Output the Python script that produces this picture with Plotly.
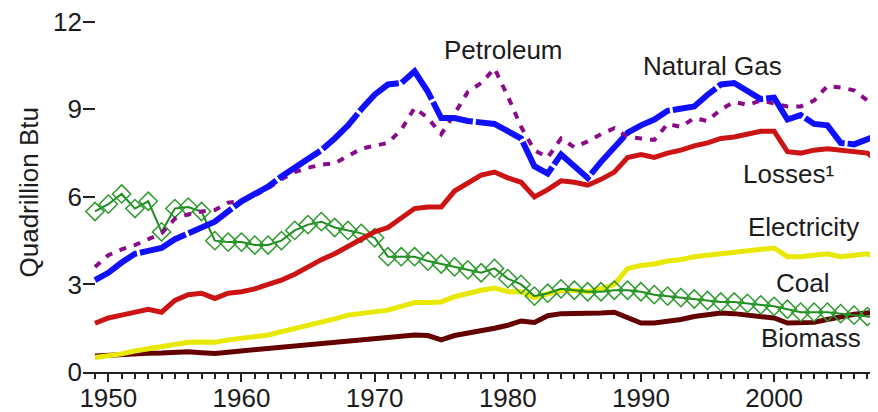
import plotly.graph_objects as go

years = list(range(1949, 2009))

natural_gas = [3.15, 3.4, 3.75, 4.05, 4.15, 4.25, 4.55, 4.75, 4.95, 5.15,
               5.5, 5.85, 6.1, 6.35, 6.7, 7.0, 7.25, 7.6, 8.0, 8.45,
               9.0, 9.5, 9.85, 9.9, 10.3, 9.6, 8.7, 8.7, 8.6, 8.55,
               8.5, 8.25, 8.0, 7.05, 6.8, 7.45, 7.05, 6.65, 7.2, 7.7,
               8.2, 8.45, 8.65, 8.95, 9.05, 9.1, 9.5, 9.85, 9.9, 9.6,
               9.35, 9.4, 8.65, 8.8, 8.5, 8.45, 7.85, 7.8, 8.0, 8.15]

petroleum = [3.6, 4.0, 4.2, 4.35, 4.55, 4.75, 5.25, 5.4, 5.5, 5.55,
             5.8, 5.85, 6.05, 6.3, 6.6, 6.85, 7.0, 7.1, 7.15, 7.4,
             7.65, 7.75, 7.85, 8.3, 9.05, 8.7, 8.15, 8.85, 9.6, 9.9,
             10.4, 9.45, 8.4, 7.6, 7.35, 8.0, 7.7, 7.9, 8.15, 8.35,
             8.05, 8.0, 7.95, 8.5, 8.4, 8.7, 8.6, 9.0, 9.25, 9.15,
             9.3, 9.2, 9.1, 9.1, 9.3, 9.8, 9.75, 9.65, 9.3, 8.8]

losses = [1.67, 1.85, 1.95, 2.05, 2.15, 2.05, 2.45, 2.65, 2.7, 2.52,
          2.7, 2.75, 2.85, 3.0, 3.15, 3.35, 3.6, 3.85, 4.05, 4.3,
          4.55, 4.8, 4.95, 5.3, 5.6, 5.65, 5.65, 6.2, 6.5, 6.75,
          6.85, 6.65, 6.5, 6.0, 6.25, 6.55, 6.5, 6.4, 6.6, 6.85,
          7.35, 7.45, 7.35, 7.5, 7.6, 7.75, 7.85, 8.0, 8.05, 8.15,
          8.25, 8.25, 7.55, 7.5, 7.6, 7.65, 7.6, 7.55, 7.5, 7.15]

electricity = [0.5, 0.55, 0.62, 0.72, 0.8, 0.85, 0.97, 1.02, 1.03, 1.02,
               1.1, 1.15, 1.2, 1.27, 1.38, 1.48, 1.6, 1.72, 1.82, 1.95,
               2.02, 2.06, 2.12, 2.25, 2.38, 2.38, 2.4, 2.58, 2.7, 2.8,
               2.88, 2.75, 2.75, 2.55, 2.68, 2.78, 2.8, 2.75, 2.85, 3.0,
               3.55, 3.65, 3.7, 3.8, 3.85, 3.95, 4.0, 4.05, 4.1, 4.15,
               4.2, 4.25, 3.95, 3.95, 4.0, 4.05, 3.95, 4.0, 4.05, 3.85]

coal = [5.5, 5.75, 6.1, 5.6, 5.85, 4.8, 5.6, 5.65, 5.5, 4.5,
        4.45, 4.45, 4.35, 4.35, 4.5, 4.85, 5.05, 5.15, 4.95, 4.85,
        4.75, 4.6, 3.95, 3.95, 3.95, 3.8, 3.7, 3.6, 3.5, 3.4,
        3.55, 3.2, 3.0, 2.6, 2.7, 2.85, 2.8, 2.75, 2.75, 2.8,
        2.8, 2.75, 2.65, 2.6, 2.55, 2.5, 2.45, 2.4, 2.4, 2.35,
        2.3, 2.25, 2.15, 2.05, 2.05, 2.05, 2.0, 1.95, 1.9, 1.85]

biomass = [0.55, 0.58, 0.6, 0.63, 0.64, 0.65, 0.68, 0.69, 0.66, 0.63,
           0.68, 0.72, 0.76, 0.8, 0.85, 0.9, 0.94, 0.98, 1.03, 1.08,
           1.12, 1.15, 1.18, 1.22, 1.27, 1.25, 1.1, 1.25, 1.32, 1.42,
           1.5, 1.6, 1.75, 1.7, 1.93, 2.0, 2.0, 2.0, 2.02, 2.05,
           1.85, 1.68, 1.68, 1.72, 1.8, 1.9, 1.97, 2.02, 2.0, 1.95,
           1.9, 1.85, 1.68, 1.68, 1.7, 1.8, 1.9, 1.98, 2.02, 2.05]

y_ticks = [0, 3, 6, 9, 12]
y_tick_labels = ["0", "3", "6", "9", "12"]
x_ticks = [1950, 1960, 1970, 1980, 1990, 2000]
x_tick_labels = ["1950", "1960", "1970", "1980", "1990", "2000"]

labels = ["Petroleum", "Natural Gas", "Losses\u00b9", "Electricity", "Coal", "Biomass"]
label_x = [1979.65, 1995.35, 2001.05, 2002.2, 2002.1, 2002.8]
label_y = [11.04, 10.5, 6.8, 4.96, 3.04, 1.16]

FONT = "Liberation Sans, Arial, sans-serif"
TXT = "#1c1c1c"
FS = 26

fig = go.Figure()

fig.add_trace(go.Scatter(x=years, y=biomass, mode="lines",
                         line=dict(color="#640000", width=5), showlegend=False))
fig.add_trace(go.Scatter(x=years, y=electricity, mode="lines",
                         line=dict(color="#e8e800", width=5), showlegend=False))
fig.add_trace(go.Scatter(x=years, y=coal, mode="lines+markers",
                         line=dict(color="#1e8c1e", width=2),
                         marker=dict(symbol="diamond-open", size=14,
                                     color="#2e9a2e", line=dict(width=1.5)),
                         showlegend=False))
fig.add_trace(go.Scatter(x=years, y=losses, mode="lines",
                         line=dict(color="#cc1414", width=5), showlegend=False))
fig.add_trace(go.Scatter(x=years, y=petroleum, mode="lines",
                         line=dict(color="#8a0a8a", width=4, dash="7px,8px"),
                         showlegend=False))
fig.add_trace(go.Scatter(x=years, y=natural_gas, mode="lines",
                         line=dict(color="#1010ff", width=6, dash="50px,3px"),
                         showlegend=False))

annotations = []
for t, ax_, ay_ in zip(labels, label_x, label_y):
    annotations.append(dict(x=ax_, y=ay_, xref="x", yref="y", text=t,
                            showarrow=False, xanchor="center", yanchor="middle",
                            font=dict(family=FONT, size=FS, color=TXT)))
annotations.append(dict(x=0, y=0.5, xref="paper", yref="paper",
                        text="Quadrillion Btu", textangle=-90, showarrow=False,
                        xanchor="center", yanchor="middle", xshift=-55,
                        font=dict(family=FONT, size=FS, color=TXT)))

# page body adds an 8px offset, so the figure is 8px smaller each way
fig.update_layout(
    width=870, height=404,
    margin=dict(l=75, r=0, t=5, b=40, pad=0, autoexpand=False),
    paper_bgcolor="white", plot_bgcolor="white",
    annotations=annotations,
    font=dict(family=FONT, size=FS, color=TXT),
)

fig.update_xaxes(
    range=[1948.1, 2007.8], automargin=False,
    tickmode="array", tickvals=x_ticks, ticktext=x_tick_labels,
    ticks="outside", ticklen=8, tickwidth=2, tickcolor="#222",
    showline=True, linecolor="#222", linewidth=2,
    showgrid=False, zeroline=False, ticklabelstandoff=-6,
    ticklabeloverflow="allow",
    tickfont=dict(family=FONT, size=FS, color=TXT),
    minor=dict(dtick=1, tick0=1949, ticks="outside", ticklen=5,
               tickwidth=1.5, tickcolor="#222", showgrid=False),
)
fig.update_yaxes(
    range=[0, 12.3], automargin=False,
    tickmode="array", tickvals=y_ticks, ticktext=y_tick_labels,
    ticks="inside", ticklen=12, tickwidth=1.5, tickcolor="#222",
    showline=False, showgrid=False, zeroline=False,
    ticklabeloverflow="allow",
    tickfont=dict(family=FONT, size=FS, color=TXT),
)

fig.write_html("out.html")
